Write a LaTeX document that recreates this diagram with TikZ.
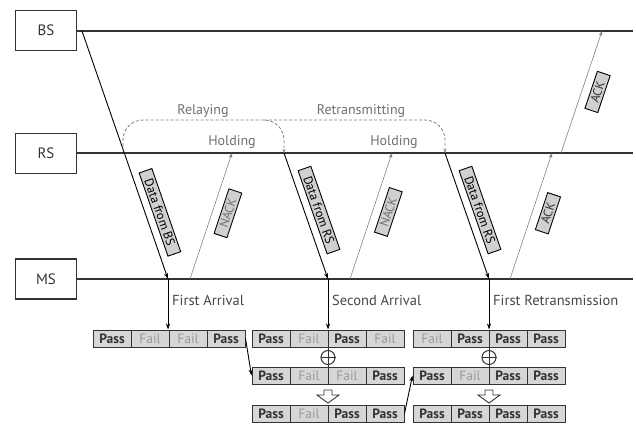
\documentclass[tikz,border=0pt]{standalone}
\usepackage{fontspec}
\setmainfont{PT Sans}
\usetikzlibrary{arrows.meta}
\definecolor{ln}{HTML}{333333}
\definecolor{lb}{HTML}{D0D0D0}
\definecolor{cf}{HTML}{D6D6D6}
\definecolor{gt}{HTML}{707070}
\definecolor{ft}{HTML}{9A9A9A}
\newcommand\cellrow[4]{%
  \foreach \s/\w [count=\i] in {#4}{\node[\s] (#1-\i) at ({#2+19+38*(\i-1)},#3) {\w};}}
\newcommand\hollowdown[1]{%
  \draw[ln,line width=0.9pt,fill=white,line join=miter,shift={(#1)}]
    (-4,-4) -- (4,-4) -- (4,1) -- (11,1) -- (0,9) -- (-11,1) -- (-4,1) -- cycle;}
\begin{document}
\begin{tikzpicture}[x=1pt,y=-1pt,
  station/.style={draw=ln,line width=1.3pt,minimum width=61,minimum height=40,inner sep=0,text=ln,font=\fontsize{15}{17}\selectfont},
  tline/.style={draw=ln,line width=1.4pt},
  dataarr/.style={draw=black,line width=0.9pt,-{Stealth[length=6pt,width=4pt]}},
  ackarr/.style={draw=gray,line width=0.6pt,-{Stealth[length=5pt,width=3.5pt]}},
  dasharr/.style={draw=gray,line width=0.8pt,dash pattern=on 3pt off 2pt,rounded corners=20,-{Stealth[length=4pt,width=3pt]}},
  lbox/.style={draw=black,fill=lb,line width=0.9pt,sloped,inner xsep=2pt,inner ysep=0pt,minimum height=13.5,font=\fontsize{12.5}{13}\selectfont},
  databox/.style={lbox,above=7pt,minimum width=88,text=black},
  nackbox/.style={lbox,below=8pt,minimum width=47,text=gt},
  ackbox/.style={lbox,below=8pt,minimum width=39,text=ln},
  glbl/.style={text=gt,font=\fontsize{14}{16}\selectfont,inner sep=0},
  albl/.style={text=ln!90,font=\fontsize{14.5}{16}\selectfont,inner sep=0,anchor=west},
  cell/.style={draw=ln,fill=cf,line width=1pt,minimum width=38,minimum height=17,inner sep=0},
  pass/.style={cell,text=ln,font=\fontsize{13.5}{14}\selectfont\bfseries},
  fail/.style={cell,text=ft,font=\fontsize{13.5}{14}\selectfont},
]
\useasboundingbox (0,0) rectangle (636,425);

% stations
\node[station] (BS) at (46,30.5) {BS};
\node[station] (RS) at (46,153.5) {RS};
\node[station] (MS) at (46,279) {MS};
\coordinate (bse) at (633,31);
\coordinate (rse) at (633,153);
\coordinate (mse) at (633,279);
\draw[tline] (BS.east |- bse) -- (bse);
\draw[tline] (RS.east |- rse) -- (rse);
\draw[tline] (MS.east |- mse) -- (mse);

% event points
\coordinate (bs0) at (82,31);
\coordinate (ma1) at (168,279);
\coordinate (mn1) at (190,279); \coordinate (rn1) at (232,153);
\coordinate (rd1) at (284,153); \coordinate (ma2) at (328,279);
\coordinate (mn2) at (350,279); \coordinate (rn2) at (392,153);
\coordinate (rd2) at (445,153); \coordinate (ma3) at (489,279);
\coordinate (mk1) at (510,279); \coordinate (rk1) at (552,153);
\coordinate (rk2) at (561,153); \coordinate (bk2) at (602,31);
\coordinate (rl0) at (123,151);
\coordinate (rt0) at (264,120);

% messages
\draw[dataarr] (bs0) -- node[databox,pos=0.75] (lb1) {Data from BS} (ma1);
\draw[ackarr] (mn1) -- node[nackbox,pos=0.56] (lb2) {NACK} (rn1);
\draw[dataarr] (rd1) -- node[databox,pos=0.49] (lb3) {Data from RS} (ma2);
\draw[ackarr] (mn2) -- node[nackbox,pos=0.57] (lb4) {NACK} (rn2);
\draw[dataarr] (rd2) -- node[databox,pos=0.49] (lb5) {Data from RS} (ma3);
\draw[ackarr] (mk1) -- node[ackbox,pos=0.56] (lb6) {ACK} (rk1);
\draw[ackarr] (rk2) -- node[ackbox,pos=0.54] (lb7) {ACK} (bk2);

% relay states
\draw[dasharr] (rl0) -- (123,120) -- (284,120) -- (rd1);
\draw[dasharr] (rt0) -- (445,120) -- (rd2);
\node[glbl] (relay) at (203,111) {Relaying};
\node[glbl] (hold1) at (232,142) {Holding};
\node[glbl] (retx) at (361,111) {Retransmitting};
\node[glbl] (hold2) at (394,142) {Holding};

% cell rows
\cellrow{g1a}{93}{338.5}{pass/Pass,fail/Fail,fail/Fail,pass/Pass}
\cellrow{g2a}{252}{338.5}{pass/Pass,fail/Fail,pass/Pass,fail/Fail}
\cellrow{g2b}{252}{375.5}{pass/Pass,fail/Fail,fail/Fail,pass/Pass}
\cellrow{g2c}{252}{413.5}{pass/Pass,fail/Fail,pass/Pass,pass/Pass}
\cellrow{g3a}{413}{338.5}{fail/Fail,pass/Pass,pass/Pass,pass/Pass}
\cellrow{g3b}{413}{375.5}{pass/Pass,fail/Fail,pass/Pass,pass/Pass}
\cellrow{g3c}{413}{413.5}{pass/Pass,pass/Pass,pass/Pass,pass/Pass}

% arrivals
\draw[dataarr] (ma1) -- (ma1 |- g1a-2.north);
\draw[dataarr] (ma2) -- (ma2 |- g2a-3.north);
\draw[dataarr] (ma3) -- (ma3 |- g3a-3.north);
\node[albl] (fa) at (172,300) {First Arrival};
\node[albl] (sa) at (332,300) {Second Arrival};
\node[albl] (fr) at (493,300) {First Retransmission};

% combining
\draw[ln,line width=1pt] (g2a-2.south east) -- (g2b-2.north east);
\draw[ln,line width=1pt] (g3a-2.south east) -- (g3b-2.north east);
\node[circle,draw=ln,line width=1pt,minimum size=14,inner sep=0] (ox2) at (328,357.5) {};
\node[circle,draw=ln,line width=1pt,minimum size=14,inner sep=0] (ox3) at (489,357.5) {};
\draw[ln,line width=1pt] (ox2.west) -- (ox2.east);
\draw[ln,line width=1pt] (ox3.west) -- (ox3.east);
\coordinate (ha2) at (328,394);
\coordinate (ha3) at (489,394);
\hollowdown{ha2}
\hollowdown{ha3}

% carry-over arrows
\draw[dataarr] (g1a-4.east) -- (g2b-1.west);
\draw[dataarr] (g2c-4.east) -- (g3b-1.west);
\end{tikzpicture}
\end{document}
